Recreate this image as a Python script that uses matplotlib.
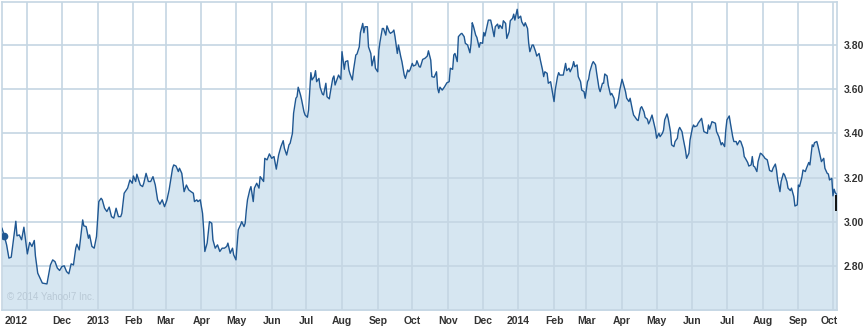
import numpy as np
import pandas as pd
import matplotlib
matplotlib.use("Agg")
import matplotlib.pyplot as plt
import matplotlib.transforms as mtransforms

# daily closing prices (dates, price in $)
dates = pd.to_datetime("""
2012-10-10 2012-10-12 2012-10-14 2012-10-16 2012-10-18 2012-10-22 2012-10-23 2012-10-25 2012-10-27 2012-10-29
2012-11-01 2012-11-03 2012-11-05 2012-11-07 2012-11-08 2012-11-10 2012-11-12 2012-11-14 2012-11-18 2012-11-21 2012-11-23 2012-11-25 2012-11-27 2012-11-29
2012-12-01 2012-12-03 2012-12-05 2012-12-07 2012-12-09 2012-12-11 2012-12-13 2012-12-14 2012-12-16 2012-12-19 2012-12-20 2012-12-22 2012-12-24 2012-12-25 2012-12-27 2012-12-29 2012-12-31
2013-01-02 2013-01-04 2013-01-05 2013-01-07 2013-01-09 2013-01-11 2013-01-13 2013-01-15 2013-01-17 2013-01-19 2013-01-21 2013-01-22 2013-01-24 2013-01-27 2013-01-29 2013-01-31
2013-02-01 2013-02-03 2013-02-04 2013-02-07 2013-02-09 2013-02-10 2013-02-12 2013-02-14 2013-02-16 2013-02-18 2013-02-20 2013-02-22 2013-02-24 2013-02-26 2013-02-28
2013-03-02 2013-03-04 2013-03-07 2013-03-08 2013-03-10 2013-03-12 2013-03-13 2013-03-15 2013-03-17 2013-03-19 2013-03-21 2013-03-23 2013-03-25 2013-03-26 2013-03-28 2013-03-29 2013-03-31
2013-04-02 2013-04-03 2013-04-04 2013-04-06 2013-04-08 2013-04-10 2013-04-11 2013-04-13 2013-04-15 2013-04-17 2013-04-19 2013-04-21 2013-04-23 2013-04-24 2013-04-26 2013-04-28 2013-04-29
2013-05-01 2013-05-03 2013-05-05 2013-05-06 2013-05-08 2013-05-09 2013-05-10 2013-05-11 2013-05-13 2013-05-14 2013-05-16 2013-05-17 2013-05-19 2013-05-21 2013-05-22 2013-05-25 2013-05-26 2013-05-28 2013-05-30
2013-06-01 2013-06-03 2013-06-05 2013-06-07 2013-06-09 2013-06-11 2013-06-12 2013-06-14 2013-06-16 2013-06-17 2013-06-19 2013-06-20 2013-06-22 2013-06-23 2013-06-24 2013-06-26 2013-06-27 2013-06-29 2013-06-30
2013-07-02 2013-07-03 2013-07-05 2013-07-06 2013-07-08 2013-07-09 2013-07-10 2013-07-12 2013-07-13 2013-07-15 2013-07-16 2013-07-18 2013-07-19 2013-07-21 2013-07-22 2013-07-24 2013-07-25 2013-07-26 2013-07-28 2013-07-29 2013-07-31
2013-08-01 2013-08-03 2013-08-04 2013-08-06 2013-08-07 2013-08-08 2013-08-10 2013-08-11 2013-08-13 2013-08-14 2013-08-16 2013-08-17 2013-08-19 2013-08-20 2013-08-21 2013-08-23 2013-08-24 2013-08-26 2013-08-27 2013-08-29 2013-08-30
2013-09-01 2013-09-02 2013-09-03 2013-09-05 2013-09-06 2013-09-08 2013-09-09 2013-09-11 2013-09-12 2013-09-14 2013-09-15 2013-09-16 2013-09-18 2013-09-19 2013-09-21 2013-09-22 2013-09-24 2013-09-25 2013-09-27 2013-09-28 2013-09-29
2013-10-01 2013-10-02 2013-10-04 2013-10-05 2013-10-07 2013-10-08 2013-10-10 2013-10-12 2013-10-14 2013-10-15 2013-10-17 2013-10-18 2013-10-20 2013-10-22 2013-10-23 2013-10-24 2013-10-25 2013-10-27 2013-10-29 2013-10-31
2013-11-02 2013-11-03 2013-11-05 2013-11-06 2013-11-07 2013-11-09 2013-11-10 2013-11-12 2013-11-13 2013-11-15 2013-11-16 2013-11-18 2013-11-20 2013-11-21 2013-11-22 2013-11-23 2013-11-25 2013-11-26 2013-11-28 2013-11-29
2013-12-01 2013-12-02 2013-12-03 2013-12-05 2013-12-06 2013-12-08 2013-12-09 2013-12-11 2013-12-12 2013-12-14 2013-12-15 2013-12-16 2013-12-18 2013-12-19 2013-12-21 2013-12-22 2013-12-24 2013-12-25 2013-12-27 2013-12-28 2013-12-29 2013-12-31
2014-01-01 2014-01-03 2014-01-04 2014-01-06 2014-01-07 2014-01-09 2014-01-10 2014-01-11 2014-01-13 2014-01-14 2014-01-16 2014-01-17 2014-01-19 2014-01-20 2014-01-22 2014-01-23 2014-01-24 2014-01-26 2014-01-27 2014-01-29 2014-01-30
2014-02-01 2014-02-02 2014-02-04 2014-02-05 2014-02-06 2014-02-09 2014-02-11 2014-02-12 2014-02-14 2014-02-15 2014-02-17 2014-02-18 2014-02-19 2014-02-21 2014-02-22 2014-02-24 2014-02-25 2014-02-27 2014-02-28
2014-03-02 2014-03-03 2014-03-04 2014-03-06 2014-03-07 2014-03-09 2014-03-10 2014-03-12 2014-03-13 2014-03-15 2014-03-16 2014-03-17 2014-03-19 2014-03-20 2014-03-22 2014-03-23 2014-03-25 2014-03-26 2014-03-28 2014-03-29 2014-03-30
2014-04-01 2014-04-02 2014-04-04 2014-04-05 2014-04-07 2014-04-08 2014-04-10 2014-04-11 2014-04-12 2014-04-14 2014-04-15 2014-04-17 2014-04-18 2014-04-20 2014-04-21 2014-04-23 2014-04-24 2014-04-25 2014-04-27 2014-04-28 2014-04-30
2014-05-01 2014-05-03 2014-05-04 2014-05-06 2014-05-07 2014-05-08 2014-05-10 2014-05-11 2014-05-13 2014-05-14 2014-05-16 2014-05-17 2014-05-19 2014-05-20 2014-05-21 2014-05-23 2014-05-24 2014-05-26 2014-05-27 2014-05-29 2014-05-30
2014-06-01 2014-06-02 2014-06-03 2014-06-05 2014-06-06 2014-06-08 2014-06-09 2014-06-11 2014-06-14 2014-06-15 2014-06-16 2014-06-18 2014-06-21 2014-06-22 2014-06-24 2014-06-26 2014-06-27 2014-06-29 2014-06-30
2014-07-01 2014-07-03 2014-07-04 2014-07-06 2014-07-07 2014-07-09 2014-07-10 2014-07-12 2014-07-13 2014-07-15 2014-07-16 2014-07-17 2014-07-19 2014-07-20 2014-07-22 2014-07-23 2014-07-24 2014-07-25 2014-07-27 2014-07-28 2014-07-30 2014-07-31
2014-08-02 2014-08-03 2014-08-05 2014-08-06 2014-08-07 2014-08-09 2014-08-10 2014-08-12 2014-08-13 2014-08-14 2014-08-16 2014-08-17 2014-08-19 2014-08-20 2014-08-22 2014-08-23 2014-08-25 2014-08-26 2014-08-28 2014-08-29 2014-08-31
2014-09-01 2014-09-02 2014-09-04 2014-09-05 2014-09-07 2014-09-08 2014-09-10 2014-09-11 2014-09-13 2014-09-14 2014-09-15 2014-09-17 2014-09-18 2014-09-20 2014-09-21 2014-09-23 2014-09-24 2014-09-26 2014-09-27 2014-09-28 2014-09-30
2014-10-01 2014-10-02 2014-10-03 2014-10-04
""".split())

prices = [
    2.970, 2.936, 2.895, 2.835, 2.839, 3.002, 2.936, 2.940, 2.918, 2.975,
    2.854, 2.906, 2.888, 2.915, 2.845, 2.767, 2.744, 2.722, 2.718, 2.804, 2.827, 2.819, 2.790, 2.779,
    2.797, 2.800, 2.774, 2.764, 2.809, 2.804, 2.880, 2.898, 2.872, 3.008, 2.981, 2.978, 2.925, 2.940, 2.888, 2.880, 2.933,
    3.091, 3.106, 3.099, 3.061, 3.046, 3.066, 3.023, 3.016, 3.061, 3.023, 3.023, 3.038, 3.129, 3.152, 3.189, 3.174,
    3.207, 3.182, 3.215, 3.166, 3.159, 3.174, 3.219, 3.182, 3.182, 3.204, 3.166, 3.099, 3.079, 3.099, 3.068,
    3.096, 3.144, 3.242, 3.257, 3.252, 3.227, 3.242, 3.219, 3.136, 3.166, 3.144, 3.136, 3.129, 3.091, 3.099, 3.091, 3.099,
    3.038, 2.963, 2.865, 2.903, 3.000, 2.993, 2.918, 2.880, 2.895, 2.865, 2.880, 2.880, 2.888, 2.903, 2.857, 2.880, 2.850,
    2.827, 2.963, 2.986, 3.000, 2.978, 2.993, 3.053, 3.099, 3.144, 3.159, 3.091, 3.152, 3.174, 3.152, 3.204, 3.182, 3.287, 3.280, 3.307,
    3.287, 3.295, 3.238, 3.302, 3.340, 3.367, 3.333, 3.302, 3.348, 3.355, 3.400, 3.491, 3.559, 3.566, 3.609, 3.574, 3.551, 3.498, 3.483,
    3.473, 3.506, 3.675, 3.642, 3.657, 3.684, 3.634, 3.649, 3.609, 3.578, 3.574, 3.627, 3.566, 3.556, 3.589, 3.649, 3.660, 3.619, 3.649, 3.664, 3.645,
    3.770, 3.690, 3.725, 3.729, 3.687, 3.669, 3.642, 3.687, 3.755, 3.759, 3.792, 3.856, 3.898, 3.856, 3.883, 3.883, 3.792, 3.762, 3.706, 3.750, 3.695,
    3.679, 3.777, 3.815, 3.875, 3.875, 3.845, 3.887, 3.860, 3.853, 3.860, 3.868, 3.838, 3.762, 3.800, 3.747, 3.725, 3.664, 3.649, 3.687, 3.679, 3.687,
    3.717, 3.705, 3.710, 3.729, 3.702, 3.700, 3.735, 3.740, 3.750, 3.774, 3.732, 3.657, 3.654, 3.679, 3.604, 3.584, 3.609, 3.596, 3.611, 3.629,
    3.634, 3.695, 3.690, 3.755, 3.762, 3.725, 3.838, 3.850, 3.853, 3.838, 3.808, 3.800, 3.765, 3.808, 3.901, 3.886, 3.845, 3.835, 3.790, 3.811,
    3.808, 3.857, 3.841, 3.890, 3.913, 3.913, 3.890, 3.838, 3.883, 3.895, 3.875, 3.890, 3.875, 3.910, 3.898, 3.830, 3.860, 3.910, 3.921, 3.940, 3.913, 3.962,
    3.921, 3.931, 3.905, 3.886, 3.901, 3.875, 3.808, 3.770, 3.800, 3.800, 3.770, 3.750, 3.762, 3.735, 3.687, 3.657, 3.679, 3.672, 3.627, 3.634, 3.604,
    3.544, 3.596, 3.657, 3.675, 3.664, 3.664, 3.717, 3.684, 3.695, 3.679, 3.702, 3.725, 3.702, 3.710, 3.657, 3.634, 3.596, 3.589, 3.559,
    3.634, 3.645, 3.679, 3.714, 3.725, 3.710, 3.672, 3.604, 3.589, 3.627, 3.627, 3.669, 3.660, 3.619, 3.574, 3.581, 3.559, 3.514, 3.536, 3.559, 3.596,
    3.645, 3.627, 3.589, 3.559, 3.544, 3.559, 3.506, 3.483, 3.476, 3.461, 3.458, 3.514, 3.521, 3.498, 3.473, 3.464, 3.443, 3.453, 3.483, 3.461, 3.415,
    3.378, 3.400, 3.385, 3.400, 3.415, 3.461, 3.488, 3.468, 3.408, 3.348, 3.340, 3.363, 3.378, 3.415, 3.427, 3.408, 3.378, 3.325, 3.287, 3.310, 3.370,
    3.423, 3.438, 3.430, 3.434, 3.446, 3.461, 3.468, 3.408, 3.400, 3.438, 3.419, 3.453, 3.446, 3.408, 3.385, 3.348, 3.358, 3.340, 3.415,
    3.461, 3.479, 3.446, 3.385, 3.363, 3.363, 3.348, 3.367, 3.363, 3.333, 3.295, 3.287, 3.268, 3.252, 3.257, 3.295, 3.252, 3.249, 3.227, 3.272, 3.310, 3.307,
    3.295, 3.287, 3.280, 3.257, 3.232, 3.227, 3.242, 3.261, 3.234, 3.189, 3.136, 3.182, 3.219, 3.212, 3.182, 3.152, 3.141, 3.152, 3.114, 3.071, 3.076,
    3.166, 3.159, 3.201, 3.234, 3.227, 3.242, 3.268, 3.257, 3.348, 3.340, 3.358, 3.363, 3.343, 3.295, 3.272, 3.287, 3.242, 3.219, 3.216, 3.189, 3.196,
    3.117, 3.147, 3.131, 3.125,
]

last_bar = [3.050, 3.121]   # black marker at the latest quote
y_ticks = [2.80, 3.00, 3.20, 3.40, 3.60, 3.80]
month_ticks = pd.date_range("2012-11-01", "2014-10-01", freq="MS")

grid_col = "#c5d6e3"
line_col = "#1f5792"
fill_col = "#d6e6f1"
text_col = "#333333"

fig = plt.figure(figsize=(8.66, 3.27), dpi=100)
ax = fig.add_axes([2 / 866, 17 / 327, 835 / 866, 308 / 327])

ax.fill_between(dates, prices, 2.5, color=fill_col, lw=0, zorder=1)
ax.plot(dates, prices, color=line_col, lw=1.0, zorder=3,
        marker="o", markevery=[1], ms=4.5, mfc=line_col, mec=line_col)
ax.vlines(dates[-1], last_bar[0], last_bar[1], color="black", lw=1.3, zorder=4)

ax.set_xlim(pd.Timestamp("2012-10-10"), pd.Timestamp("2014-10-04 12:00"))
ax.set_ylim(2.60, 3.995)

labels = []
for m in month_ticks:
    if m.month == 1:
        labels.append(str(m.year))
    elif m == month_ticks[0]:
        labels.append(str(m.year))
    else:
        labels.append(m.strftime("%b"))
ax.set_xticks(month_ticks)
ax.set_xticklabels(labels, fontsize=7.5, fontweight="bold", color=text_col,
                   family="Liberation Sans")
ax.set_yticks(y_ticks)
ax.set_yticklabels(["%.2f" % v for v in y_ticks], fontsize=7.5, fontweight="bold",
                   color=text_col, family="Liberation Sans")
ax.yaxis.tick_right()
ax.tick_params(axis="both", length=0)
ax.tick_params(axis="x", pad=4)
ax.tick_params(axis="y", pad=5)

# first and last labels are pushed inside the frame
xl = ax.get_xticklabels()
xl[0].set_ha("right")
xl[-1].set_transform(xl[-1].get_transform() +
                     mtransforms.ScaledTranslation(-4 / 100, 0, fig.dpi_scale_trans))

ax.set_axisbelow("line")
ax.grid(True, color=grid_col, lw=1.2)
for s in ax.spines.values():
    s.set_color(grid_col)
    s.set_linewidth(1.2)

ax.text(0.006, 0.025, "\u00a9 2014 Yahoo!7 Inc.", transform=ax.transAxes,
        fontsize=7, color="#b9c9d6", family="Liberation Sans", va="bottom")

fig.savefig("out.png", dpi=100)
